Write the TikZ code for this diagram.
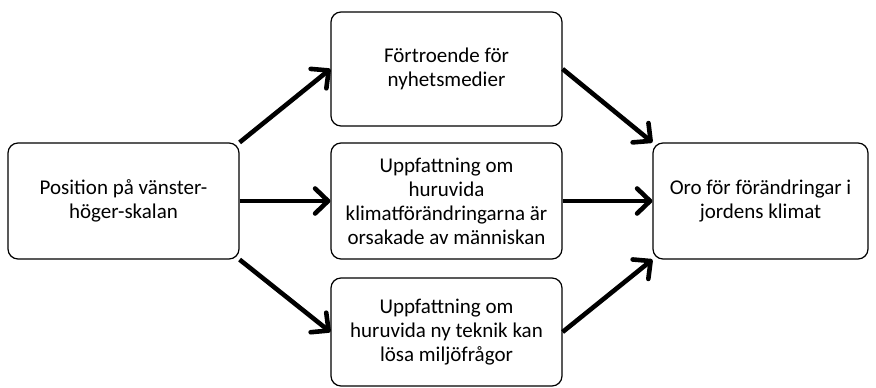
\documentclass[tikz,border=0pt]{standalone}
\usepackage{fontspec}
\setmainfont{Carlito}
\usetikzlibrary{positioning,arrows.meta}

\begin{document}
\begin{tikzpicture}[x=1pt, y=1pt, node distance=323pt, auto,
  box/.style={draw, rounded corners=10pt, line width=1.2pt, align=center,
    font=\fontsize{21}{24}\selectfont, inner sep=0pt},
  pil/.style={arrows=-{Straight Barb[length=13pt, width=25pt, round]}, line width=4.6pt}]
\useasboundingbox (0,0) rectangle (876,388);
\node  (pos)[box, minimum width=231pt, minimum height=116pt] at (123.5,187) {Position på vänster-\\höger-skalan};
\node  (klimat)[box, minimum width=231pt, minimum height=116pt] [right of = pos] {Uppfattning om\\huruvida\\klimatförändringarna är\\orsakade av människan};
\node  (fort)[box, minimum width=231pt, minimum height=114pt] [above of = klimat, node distance=132pt] {Förtroende för\\nyhetsmedier};
\node  (teknik)[box, minimum width=231pt, minimum height=108pt] [below of = klimat, node distance=131pt] {Uppfattning om\\huruvida ny teknik kan\\lösa miljöfrågor};
\node  (oro)[box, minimum width=215pt, minimum height=116pt] [right of = klimat, node distance=314pt] {Oro för förändringar i\\jordens klimat};
\draw[pil] (pos.north east) -- (fort.west);
\draw[pil] (pos.east) -- (klimat.west);
\draw[pil] (pos.south east) -- (teknik.west);
\draw[pil] (fort.east) -- (oro.north west);
\draw[pil] (klimat.east) -- (oro.west);
\draw[pil] (teknik.east) -- (oro.south west);
\end{tikzpicture}
\end{document}
